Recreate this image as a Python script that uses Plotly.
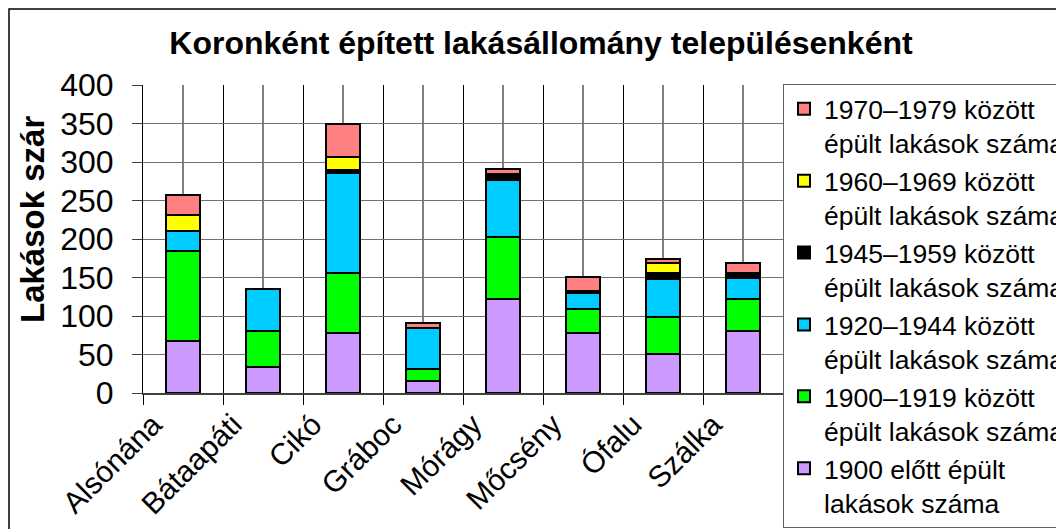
import plotly.graph_objects as go

# Településenkénti lakásállomány építési időszak szerint
towns = ["Alsónána", "Bátaapáti", "Cikó", "Gráboc", "Mórágy",
         "Mőcsény", "Ófalu", "Szálka"]

before_1900 = [67, 34, 78, 15, 122, 78, 51, 80]
y1900_1919 = [117, 47, 78, 16, 81, 31, 48, 42]
y1920_1944 = [26, 54, 130, 54, 74, 21, 49, 28]
y1945_1959 = [0, 0, 3, 0, 7, 3, 8, 6]
y1960_1969 = [21, 0, 17, 0, 0, 0, 13, 0]
y1970_1979 = [26, 0, 43, 6, 7, 18, 5, 13]

series = [
    ("1900 előtt épült<br>lakások száma", before_1900, "#CC99FF"),
    ("1900–1919 között<br>épült lakások száma", y1900_1919, "#00FF00"),
    ("1920–1944 között<br>épült lakások száma", y1920_1944, "#00CCFF"),
    ("1945–1959 között<br>épült lakások száma", y1945_1959, "#000000"),
    ("1960–1969 között<br>épült lakások száma", y1960_1969, "#FFFF00"),
    ("1970–1979 között<br>épült lakások száma", y1970_1979, "#FF8080"),
]

FONT = "Liberation Sans, Arial, sans-serif"

# the page body has an 8px margin, so work in page pixels minus OFF
OFF = 8
W, H = 1064 - OFF, 529 - OFF
L, R, T, B = 143 - OFF, 783 - OFF, 85 - OFF, 393 - OFF   # plot area


def px_x(p):
    return (p - OFF - L) / (R - L)


def px_y(p):
    return (B - (p - OFF)) / (B - T)


fig = go.Figure()
for k, (name, vals, col) in enumerate(series):
    fig.add_trace(go.Bar(
        x=towns, y=vals, name=name,
        legendrank=100 - k,   # newest period on top of the legend
        marker=dict(color=col, line=dict(color="black", width=2)),
    ))

# vertical lines through category centres (behind the bars)
for i in range(len(towns)):
    fig.add_shape(type="line", xref="x", yref="paper",
                  x0=i, x1=i, y0=0, y1=1,
                  line=dict(color="black", width=1), layer="below")

# outer chart frame
fig.add_shape(type="rect", xref="paper", yref="paper",
              x0=px_x(OFF + 1), x1=px_x(1200), y0=px_y(600), y1=px_y(OFF + 1),
              line=dict(color="black", width=1.5), layer="below")

fig.add_annotation(
    text="<b>Lakások szár</b>", textangle=-90,
    xref="paper", yref="paper", x=px_x(32), y=px_y(220),
    xanchor="center", yanchor="middle",
    showarrow=False, font=dict(family=FONT, size=33, color="black"),
)

fig.update_layout(
    barmode="stack",
    bargap=0.575,
    width=W, height=H,
    margin=dict(l=L, r=W - R, t=T, b=H - B, pad=0, autoexpand=False),
    paper_bgcolor="white",
    plot_bgcolor="white",
    font=dict(family=FONT, color="black"),
    title=dict(
        text="<b>Koronként épített lakásállomány településenként</b>",
        x=(541 - OFF) / W, xanchor="center", xref="container",
        y=1 - (43 - OFF) / H, yanchor="middle", yref="container",
        font=dict(family=FONT, size=32, color="black"),
    ),
    xaxis=dict(
        type="category",
        tickson="boundaries",
        ticks="outside", ticklen=10, tickcolor="black",
        showgrid=True, gridcolor="black", gridwidth=1,
        showline=True, linecolor="#404040", linewidth=2,
        tickangle=-45,
        ticklabelshift=-30,
        tickfont=dict(family=FONT, size=30, color="black"),
    ),
    yaxis=dict(
        range=[0, 400], dtick=50,
        ticks="outside", ticklen=10, tickcolor="#404040",
        ticklabelstandoff=12,
        showgrid=True, gridcolor="#707070", gridwidth=1,
        showline=True, linecolor="black", linewidth=1,
        zeroline=False,
        tickfont=dict(family=FONT, size=32, color="black"),
    ),
    legend=dict(
        traceorder="normal",
        xref="container", yref="container",
        x=(783 - OFF) / W, xanchor="left",
        y=1 - (84 - OFF) / H, yanchor="top",
        maxheight=1000,
        bgcolor="white", bordercolor="#606060", borderwidth=1,
        font=dict(family=FONT, size=26.5, color="black"),
        valign="top",
        itemsizing="constant",
    ),
)

fig.write_html("out.html")
